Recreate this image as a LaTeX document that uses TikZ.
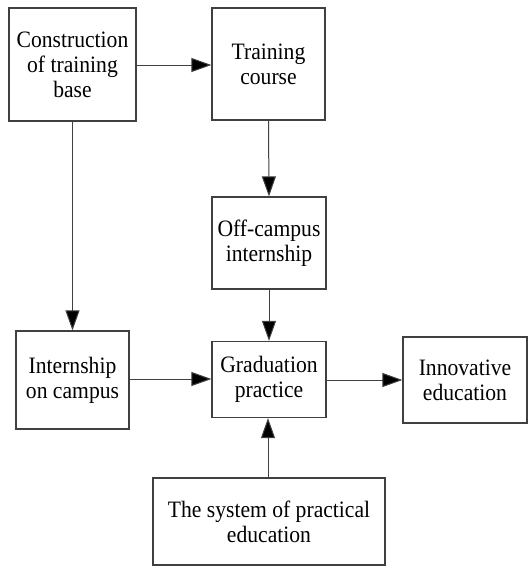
\documentclass[tikz,border=0pt]{standalone}
\usepackage{fontspec}
\setmainfont{Liberation Serif}[FakeStretch=0.92]
\usetikzlibrary{arrows.meta}
\begin{document}
\begin{tikzpicture}[x=1pt,y=1pt,
  box/.style={draw=black!75, line width=1.2pt, inner sep=0pt, align=center,
    font=\fontsize{23.5}{25}\selectfont},
  arr/.style={draw=black!75, line width=1pt, -{Triangle[length=20pt,width=14pt,fill=black]}}]
\useasboundingbox (0,0) rectangle (528,-566);
\node[box, minimum width=127pt, minimum height=113pt] (b1) at (72.5,-64.5) {Construction\\of training\\base};
\node[box, minimum width=113pt, minimum height=112pt] (b2) at (268.5,-64) {Training\\course};
\node[box, minimum width=114pt, minimum height=92pt] (b3) at (269,-243) {Off-campus\\internship};
\node[box, minimum width=113pt, minimum height=98pt] (b4) at (72.5,-380) {Internship\\on campus};
\node[box, minimum width=114pt, minimum height=76pt] (b5) at (269,-379.5) {Graduation\\practice};
\node[box, minimum width=124pt, minimum height=86pt] (b6) at (465,-380) {Innovative\\education};
\node[box, minimum width=232pt, minimum height=87pt] (b7) at (269,-521.5) {The system of practical\\education};
\draw[arr] (b1.east |- 0,-65) -- (b2.west |- 0,-65);
\draw[arr] (b1.south) -- (b4.north);
\draw[arr] (b2.south) -- (b3.north);
\draw[arr] (b3.south) -- (b5.north);
\draw[arr] (b4.east |- 0,-379) -- (b5.west |- 0,-379);
\draw[arr] (b5.east |- 0,-380) -- (b6.west |- 0,-380);
\draw[arr] (b7.north -| 268,0) -- (b5.south -| 268,0);
\end{tikzpicture}
\end{document}
